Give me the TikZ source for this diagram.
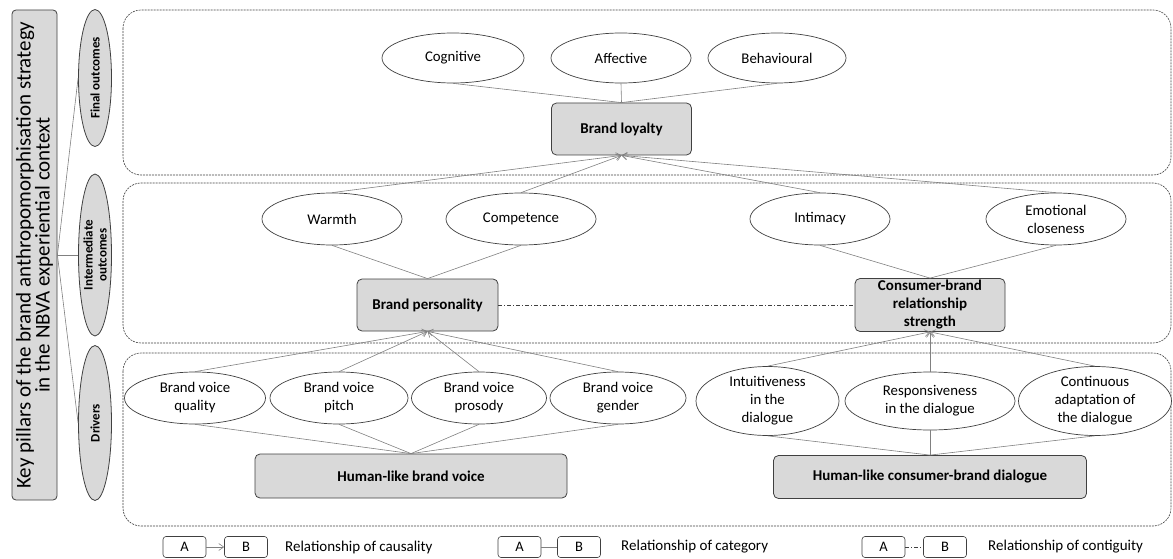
\documentclass[tikz,border=0pt]{standalone}
\usepackage{fontspec}
\setmainfont{Carlito}
\usetikzlibrary{shapes.geometric,arrows.meta}
\definecolor{boxfill}{HTML}{D9D9D9}
\definecolor{edgec}{HTML}{404040}
\definecolor{linkc}{HTML}{808080}
\begin{document}
\begin{tikzpicture}[x=1pt,y=-1pt,
  container/.style={draw=edgec, dash pattern=on 2pt off 1pt, rounded corners=18pt, line width=0.6pt},
  pill/.style={ellipse, draw=edgec, fill=white, line width=0.7pt, inner sep=0pt, align=center,
    font=\fontsize{14.8}{18}\selectfont},
  gbox/.style={rectangle, rounded corners=5pt, draw=edgec, fill=boxfill, line width=0.8pt, align=center,
    inner sep=1pt, font=\bfseries\fontsize{15}{18}\selectfont},
  sideell/.style={ellipse, draw=edgec, fill=boxfill, line width=0.8pt, rotate=90, inner sep=0pt,
    minimum height=33pt, align=center, font=\bfseries\fontsize{13}{14}\selectfont},
  legbox/.style={rectangle, rounded corners=3pt, draw=edgec, fill=white, line width=0.6pt,
    minimum width=43pt, minimum height=21pt, inner sep=0pt, font=\fontsize{14.5}{16}\selectfont},
  legtext/.style={anchor=west, inner sep=0pt, font=\fontsize{15}{17}\selectfont},
  catline/.style={draw=linkc, line width=0.6pt},
  cause/.style={draw=linkc, line width=0.6pt, -{Straight Barb[length=5pt,width=7pt]}},
  contig/.style={draw=edgec, line width=0.6pt, dash pattern=on 4pt off 2pt on 1pt off 2pt}
]
\useasboundingbox (0,0) rectangle (1173,559);

% containers
\draw[container] (123,10) rectangle (1171,175);
\draw[container] (123,183) rectangle (1171,343);
\draw[container] (123,353) rectangle (1171,526);

% left title box and level ellipses
\node[rectangle, rounded corners=4pt, draw=edgec, fill=boxfill, line width=0.8pt, rotate=90,
  minimum width=490pt, minimum height=45pt, inner sep=0pt, align=center,
  font=\fontsize{21}{19}\selectfont] (key) at (34.5,255)
  {Key pillars of the brand anthropomorphisation strategy\\in the NBVA experiential context};
\node[sideell, minimum width=137pt] (fo) at (95,78) {Final outcomes};
\node[sideell, minimum width=162pt] (io) at (95,255) {Intermediate\\outcomes};
\node[sideell, minimum width=155pt] (dr) at (95,423) {Drivers};
\draw[catline] (key.south) -- (fo.north);
\draw[catline] (key.south) -- (io.north);
\draw[catline] (key.south) -- (dr.north);

% final outcomes
\node[pill, minimum width=142pt, minimum height=50pt] (cog) at (453,58) {Cognitive};
\node[pill, minimum width=140pt, minimum height=50pt] (aff) at (621,58) {Affective};
\node[pill, minimum width=138pt, minimum height=50pt] (beh) at (777,58) {Behavioural};
\node[gbox, minimum width=140pt, minimum height=52pt] (loyal) at (621.5,129) {Brand loyalty};
\draw[catline] (cog.south) -- (loyal.north);
\draw[catline] (aff.south) -- (loyal.north);
\draw[catline] (beh.south) -- (loyal.north);

% intermediate outcomes
\node[pill, minimum width=140pt, minimum height=52pt] (warm) at (332,219) {Warmth};
\node[pill, minimum width=150pt, minimum height=52pt] (comp) at (521,219) {Competence};
\node[pill, minimum width=140pt, minimum height=52pt] (intim) at (820,219) {Intimacy};
\node[pill, minimum width=140pt, minimum height=52pt] (emo) at (1056,219) {Emotional\\closeness};
\node[gbox, minimum width=141pt, minimum height=52pt] (bp) at (427.5,305) {Brand personality};
\node[gbox, minimum width=150pt, minimum height=53pt] (cbrs) at (930,305) {Consumer-brand\\relationship\\strength};
\draw[catline] (warm.south) -- (bp.north);
\draw[catline] (comp.south) -- (bp.north);
\draw[catline] (intim.south) -- (cbrs.north);
\draw[catline] (emo.south) -- (cbrs.north);
\draw[contig] (bp.east) -- (cbrs.west);
\draw[cause] (warm.north) -- (loyal.south);
\draw[cause] (comp.north) -- (loyal.south);
\draw[cause] (intim.north) -- (loyal.south);
\draw[cause] (emo.north) -- (loyal.south);

% drivers
\node[pill, minimum width=141pt, minimum height=52pt] (bvq) at (195,398) {Brand voice\\quality};
\node[pill, minimum width=138pt, minimum height=52pt] (bvp) at (339,398) {Brand voice\\pitch};
\node[pill, minimum width=135pt, minimum height=52pt] (bvr) at (479,398) {Brand voice\\prosody};
\node[pill, minimum width=136pt, minimum height=52pt] (bvg) at (618,398) {Brand voice\\gender};
\node[gbox, minimum width=312pt, minimum height=44pt] (hbv) at (411,476) {Human-like brand voice};
\node[pill, minimum width=143pt, minimum height=58pt] (intu) at (767.5,401) {Intuitiveness\\in the\\dialogue};
\node[pill, minimum width=170pt, minimum height=58pt] (resp) at (930,401) {Responsiveness\\in the dialogue};
\node[pill, minimum width=153pt, minimum height=58pt] (cont) at (1095,401) {Continuous\\adaptation of\\the dialogue};
\node[gbox, minimum width=313pt, minimum height=43pt] (hcbd) at (930,477) {Human-like consumer-brand dialogue};
\foreach \n in {bvq,bvp,bvr,bvg}{
  \draw[catline] (\n.south) -- (hbv.north);
  \draw[cause] (\n.north) -- (bp.south);
}
\foreach \n in {intu,resp,cont}{
  \draw[catline] (\n.south) -- (hcbd.north);
  \draw[cause] (\n.north) -- (cbrs.south);
}

% legend
\node[legbox] (la1) at (184.5,547) {A};
\node[legbox] (lb1) at (246,547) {B};
\draw[cause] (la1) -- (lb1);
\node[legtext] (lt1) at (285,547) {Relationship of causality};
\node[legbox] (la2) at (519.5,547) {A};
\node[legbox] (lb2) at (579,547) {B};
\draw[catline] (la2) -- (lb2);
\node[legtext] (lt2) at (621,547) {Relationship of category};
\node[legbox] (la3) at (883.5,547) {A};
\node[legbox] (lb3) at (945,547) {B};
\draw[contig] (la3) -- (lb3);
\node[legtext] (lt3) at (988,547) {Relationship of contiguity};
\end{tikzpicture}
\end{document}
